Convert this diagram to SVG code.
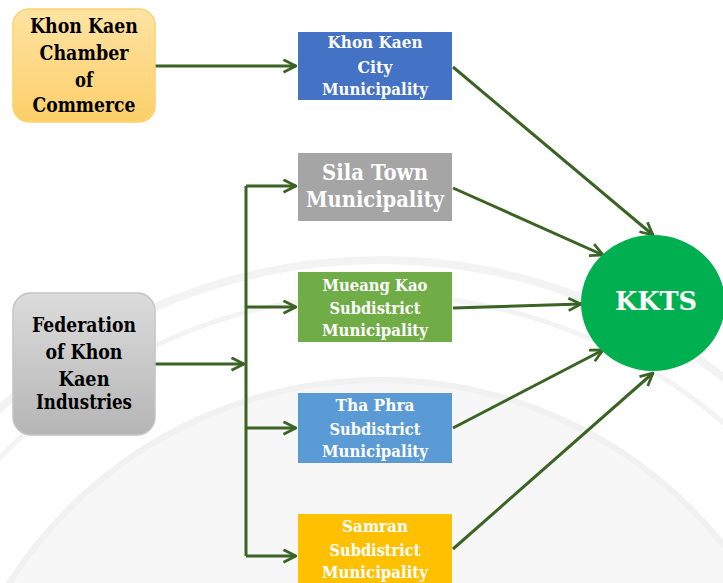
<svg xmlns="http://www.w3.org/2000/svg" width="723" height="583" viewBox="0 0 723 583">
<style>
text{font-family:"DejaVu Serif",serif;font-weight:bold;text-anchor:middle}
.dark{fill:#000}
.white{fill:#fff}
.conn{stroke:#3b6324;stroke-width:3;fill:none}
.wm{fill:none;stroke:#f3f3f3}
</style>
<defs>
<marker id="arr" viewBox="0 0 12 12" refX="11" refY="6" markerWidth="5" markerHeight="5" markerUnits="strokeWidth" orient="auto">
<path d="M1,1 L11,6 L1,11" fill="none" stroke="#3b6324" stroke-width="2.2"/>
</marker>
<linearGradient id="gOrange" x1="0" y1="0" x2="0" y2="1">
<stop offset="0" stop-color="#fee3a2"/>
<stop offset="1" stop-color="#fdcf6a"/>
</linearGradient>
<linearGradient id="gGray" x1="0" y1="0" x2="0" y2="1">
<stop offset="0" stop-color="#dcdcdc"/>
<stop offset="1" stop-color="#b5b5b5"/>
</linearGradient>
</defs>
<rect width="723" height="583" fill="#fff"/>
<g id="watermark">
<circle cx="380" cy="820" r="560" class="wm" stroke-width="8"/>
<circle cx="380" cy="820" r="525" class="wm" stroke-width="5"/>
<circle cx="380" cy="820" r="440" fill="#f7f7f7" stroke="#f1f1f1" stroke-width="6"/>
</g>
<g id="connectors">
<line x1="155" y1="66" x2="296" y2="66" class="conn" marker-end="url(#arr)"/>
<line x1="155" y1="364" x2="244" y2="364" class="conn" marker-end="url(#arr)"/>
<line x1="246" y1="186" x2="246" y2="556" class="conn"/>
<line x1="246" y1="186" x2="296" y2="186" class="conn" marker-end="url(#arr)"/>
<line x1="246" y1="307" x2="296" y2="307" class="conn" marker-end="url(#arr)"/>
<line x1="246" y1="428" x2="296" y2="428" class="conn" marker-end="url(#arr)"/>
<line x1="246" y1="556" x2="296" y2="556" class="conn" marker-end="url(#arr)"/>
<line x1="453" y1="67" x2="653" y2="235" class="conn" marker-end="url(#arr)"/>
<line x1="453" y1="188" x2="603" y2="255" class="conn" marker-end="url(#arr)"/>
<line x1="453" y1="308" x2="581" y2="304" class="conn" marker-end="url(#arr)"/>
<line x1="453" y1="428" x2="603" y2="350" class="conn" marker-end="url(#arr)"/>
<line x1="453" y1="549" x2="653" y2="373" class="conn" marker-end="url(#arr)"/>
</g>
<g id="chamber">
<rect x="13" y="9" width="142" height="113" rx="16" fill="url(#gOrange)" stroke="#fbd36e" stroke-width="1.5"/>
<text class="dark" font-size="20"><tspan x="84" y="33" textLength="108" lengthAdjust="spacingAndGlyphs">Khon Kaen</tspan></text>
<text class="dark" font-size="20"><tspan x="84" y="60" textLength="89" lengthAdjust="spacingAndGlyphs">Chamber</tspan></text>
<text class="dark" font-size="20"><tspan x="84" y="87" textLength="18" lengthAdjust="spacingAndGlyphs">of</tspan></text>
<text class="dark" font-size="20"><tspan x="84" y="112" textLength="103" lengthAdjust="spacingAndGlyphs">Commerce</tspan></text>
</g>
<g id="federation">
<rect x="13" y="293" width="142" height="142" rx="18" fill="url(#gGray)" stroke="#c4c4c4" stroke-width="1.5"/>
<text class="dark" font-size="20"><tspan x="84" y="332" textLength="104" lengthAdjust="spacingAndGlyphs">Federation</tspan></text>
<text class="dark" font-size="20"><tspan x="84" y="359" textLength="77" lengthAdjust="spacingAndGlyphs">of Khon</tspan></text>
<text class="dark" font-size="20"><tspan x="84" y="386" textLength="51" lengthAdjust="spacingAndGlyphs">Kaen</tspan></text>
<text class="dark" font-size="20"><tspan x="84" y="409" textLength="96" lengthAdjust="spacingAndGlyphs">Industries</tspan></text>
</g>
<g id="khonkaen-city">
<rect x="298" y="32" width="154" height="68" fill="#4472c4"/>
<text class="white" font-size="17.3"><tspan x="375" y="48" textLength="95" lengthAdjust="spacingAndGlyphs">Khon Kaen</tspan></text>
<text class="white" font-size="17.3"><tspan x="375" y="73" textLength="35" lengthAdjust="spacingAndGlyphs">City</tspan></text>
<text class="white" font-size="17.3"><tspan x="375" y="95" textLength="106" lengthAdjust="spacingAndGlyphs">Municipality</tspan></text>
</g>
<g id="sila-town">
<rect x="298" y="153" width="154" height="68" fill="#a5a5a5"/>
<text class="white" font-size="22.7"><tspan x="375" y="180" textLength="106" lengthAdjust="spacingAndGlyphs">Sila Town</tspan></text>
<text class="white" font-size="22.7"><tspan x="375" y="207" textLength="138" lengthAdjust="spacingAndGlyphs">Municipality</tspan></text>
</g>
<g id="mueang-kao">
<rect x="298" y="272" width="154" height="70" fill="#70ad47"/>
<text class="white" font-size="17.3"><tspan x="375" y="291" textLength="105" lengthAdjust="spacingAndGlyphs">Mueang Kao</tspan></text>
<text class="white" font-size="17.3"><tspan x="375" y="314" textLength="91" lengthAdjust="spacingAndGlyphs">Subdistrict</tspan></text>
<text class="white" font-size="17.3"><tspan x="375" y="336" textLength="106" lengthAdjust="spacingAndGlyphs">Municipality</tspan></text>
</g>
<g id="tha-phra">
<rect x="298" y="393" width="154" height="70" fill="#5b9bd5"/>
<text class="white" font-size="17.3"><tspan x="375" y="411" textLength="79" lengthAdjust="spacingAndGlyphs">Tha Phra</tspan></text>
<text class="white" font-size="17.3"><tspan x="375" y="435" textLength="91" lengthAdjust="spacingAndGlyphs">Subdistrict</tspan></text>
<text class="white" font-size="17.3"><tspan x="375" y="457" textLength="106" lengthAdjust="spacingAndGlyphs">Municipality</tspan></text>
</g>
<g id="samran">
<rect x="298" y="514" width="154" height="75" fill="#ffc000"/>
<text class="white" font-size="17.3"><tspan x="375" y="532" textLength="66" lengthAdjust="spacingAndGlyphs">Samran</tspan></text>
<text class="white" font-size="17.3"><tspan x="375" y="556" textLength="91" lengthAdjust="spacingAndGlyphs">Subdistrict</tspan></text>
<text class="white" font-size="17.3"><tspan x="375" y="578" textLength="106" lengthAdjust="spacingAndGlyphs">Municipality</tspan></text>
</g>
<g id="kkts">
<ellipse cx="653" cy="303" rx="72" ry="68" fill="#00b050"/>
<text class="white" font-size="26.4"><tspan x="656" y="310" textLength="82" lengthAdjust="spacingAndGlyphs">KKTS</tspan></text>
</g>
</svg>
